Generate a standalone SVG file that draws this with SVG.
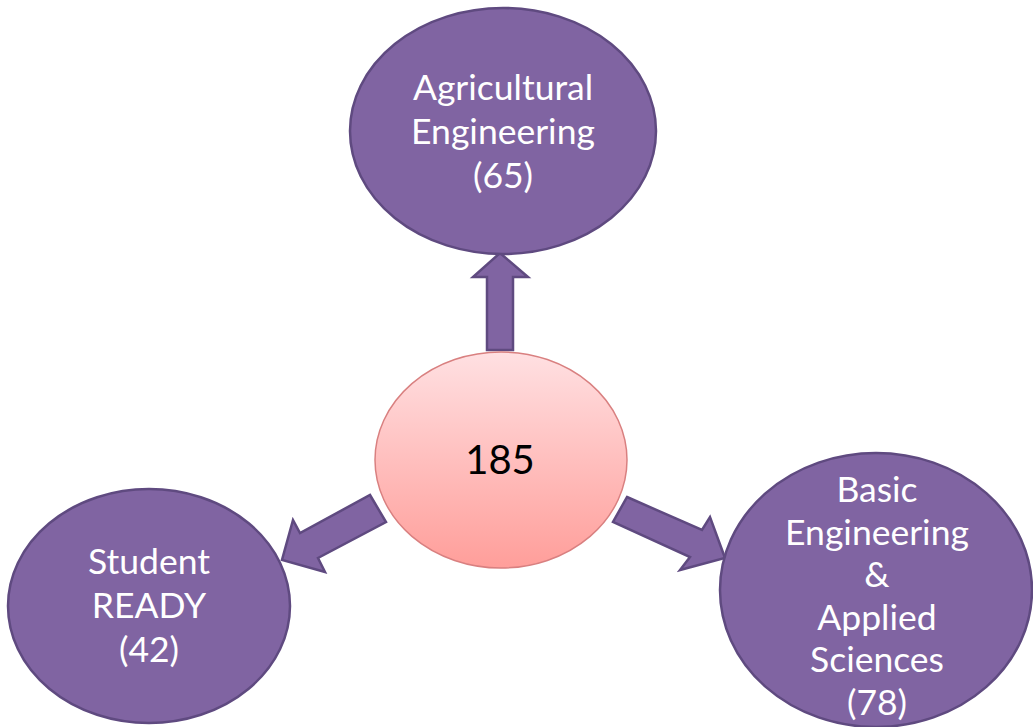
<svg xmlns="http://www.w3.org/2000/svg" width="1033" height="727" viewBox="0 0 1033 727">
<defs>
<linearGradient id="pink" x1="0" y1="0" x2="0" y2="1">
<stop offset="0" stop-color="#FFE0E2"/>
<stop offset="1" stop-color="#FF9E9A"/>
</linearGradient>
<style>
.node{fill:#8064A2;stroke:#5F4A80;stroke-width:2.5}
.arrow{fill:#8064A2;stroke:#5F4A80;stroke-width:2.5;stroke-linejoin:miter}
.lbl{font-family:Lato,"Liberation Sans",sans-serif;font-size:35.5px;fill:#FFFFFF;text-anchor:middle}
.ctr{font-family:Lato,"Liberation Sans",sans-serif;font-size:40px;fill:#000000;text-anchor:middle}
</style>
</defs>
<rect width="1033" height="727" fill="#FFFFFF"/>
<g id="connectors">
<polygon class="arrow" points="487,350 487,277 473,277 500,253 528,277 513,277 513,350"/>
<polygon class="arrow" points="370,495 386,522 318,558 325,572 282,560 293,520 300,533"/>
<polygon class="arrow" points="627,497 702,530 710,517 725,558 680,570 690,557 613,522"/>
</g>
<g id="center">
<ellipse cx="501" cy="460" rx="126" ry="108" fill="url(#pink)" stroke="#D98080" stroke-width="1.5"/>
<text class="ctr" x="500" y="474">185</text>
</g>
<g id="agri">
<ellipse class="node" cx="503" cy="131" rx="153" ry="123"/>
<text class="lbl" x="503" y="100">Agricultural</text>
<text class="lbl" x="503" y="144">Engineering</text>
<text class="lbl" x="503" y="188">(65)</text>
</g>
<g id="student">
<ellipse class="node" cx="149" cy="606" rx="141" ry="117"/>
<text class="lbl" x="149" y="574">Student</text>
<text class="lbl" x="149" y="618">READY</text>
<text class="lbl" x="149" y="662">(42)</text>
</g>
<g id="basic">
<ellipse class="node" cx="876" cy="590" rx="156" ry="137"/>
<text class="lbl" x="877" y="502">Basic</text>
<text class="lbl" x="877" y="545">Engineering</text>
<text class="lbl" x="877" y="587">&amp;</text>
<text class="lbl" x="877" y="630">Applied</text>
<text class="lbl" x="877" y="672">Sciences</text>
<text class="lbl" x="877" y="715">(78)</text>
</g>
</svg>
